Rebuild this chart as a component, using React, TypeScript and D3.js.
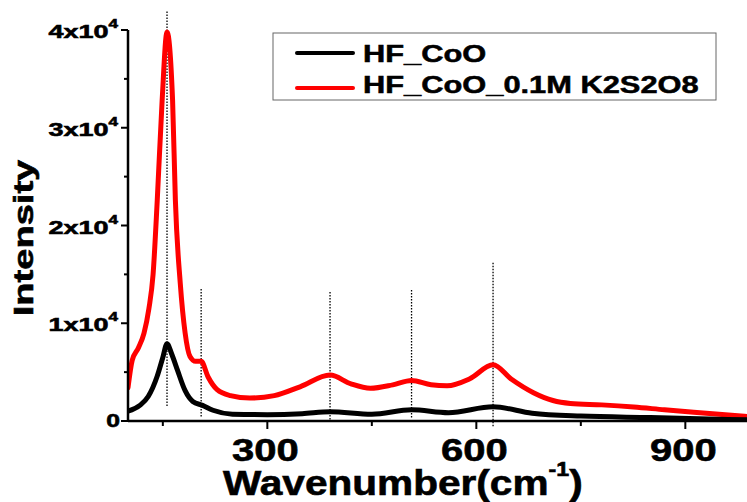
import React from "react";
import * as d3 from "d3";

// HF_CoO (black)
const coWave = [100, 117, 129, 142, 150, 156, 163, 171, 182, 193, 207, 222, 250, 300, 350, 390, 450, 507, 560, 624, 680, 750, 850, 1000];
const coInt = [1000, 1600, 2500, 4600, 6500, 7900, 6800, 5200, 3100, 2000, 1600, 1100, 700, 650, 750, 950, 700, 1150, 850, 1450, 800, 500, 350, 100];

// HF_CoO_0.1M K2S2O8 (red)
const ksWave = [100, 106, 115, 123, 130, 136, 142, 149, 156, 164, 168, 175, 182, 189, 197, 205, 215, 228, 247, 275, 310, 347, 390, 420, 448, 480, 507, 535, 558, 590, 624, 650, 682, 710, 735, 780, 826, 870, 921, 1000];
const ksInt = [3400, 6200, 7500, 9000, 11500, 15000, 22600, 32800, 39800, 32800, 22600, 14100, 9000, 6600, 6100, 6100, 4500, 3200, 2600, 2350, 2600, 3500, 4700, 3800, 3350, 3700, 4150, 3700, 3600, 4300, 5750, 4300, 2900, 2100, 1800, 1650, 1430, 1150, 850, 400];

// dotted peak markers: position, top, bottom
const peakPos = [156, 205, 390, 507, 624];
const peakTop = [41900, 13500, 13200, 13400, 16200];
const peakBottom = [1400, 400, 0, 300, -700];

const xTicks = [300, 600, 900];
const xMinor = [150, 450, 750];
const yTicks = [0, 10000, 20000, 30000, 40000];
const yTickLabels = ["0", "1x10", "2x10", "3x10", "4x10"];
const yMinor = [5000, 15000, 25000, 35000];

const seriesNames = ["HF_CoO", "HF_CoO_0.1M K2S2O8"];
const seriesColors = ["#000000", "#ff0000"];

const W = 747;
const H = 502;
const FONT = "'Liberation Sans', Arial, sans-serif";

export default function App() {
  const x = d3.scaleLinear().domain([100, 1000]).range([128, 755]);
  const y = d3.scaleLinear().domain([0, 40000]).range([421, 30]);

  const line = d3
    .line<[number, number]>()
    .x((d) => x(d[0]))
    .y((d) => y(d[1]))
    .curve(d3.curveMonotoneX);

  const coPath = line(coWave.map((w, i) => [w, coInt[i]]) as [number, number][]);
  const ksPath = line(ksWave.map((w, i) => [w, ksInt[i]]) as [number, number][]);

  return (
    <svg
      width={W}
      height={H}
      style={{ position: "absolute", left: 0, top: 0, background: "#fff" }}
      fontFamily={FONT}
      fontWeight="bold"
    >
      <defs>
        <clipPath id="plot">
          <rect x={128} y={0} width={W - 128} height={421} />
        </clipPath>
      </defs>

      {/* dotted peak guides */}
      {peakPos.map((p, i) => (
        <line
          key={"pk" + i}
          x1={x(p)}
          x2={x(p)}
          y1={y(peakTop[i])}
          y2={y(peakBottom[i])}
          stroke="#000"
          strokeWidth={1.3}
          strokeDasharray="1.5,1.5"
        />
      ))}

      {/* curves */}
      <g clipPath="url(#plot)" fill="none" strokeLinejoin="round" strokeLinecap="round">
        <path d={ksPath || ""} stroke={seriesColors[1]} strokeWidth={5} />
        <path d={coPath || ""} stroke={seriesColors[0]} strokeWidth={5} />
      </g>

      {/* axes */}
      <line x1={128} x2={W} y1={y(0)} y2={y(0)} stroke="#000" strokeWidth={2.5} />
      <line x1={128} x2={128} y1={y(40000)} y2={y(0) + 1} stroke="#000" strokeWidth={2.5} />

      {xTicks.map((t) => (
        <line key={"xt" + t} x1={x(t)} x2={x(t)} y1={y(0)} y2={y(0) + 8} stroke="#000" strokeWidth={2} />
      ))}
      {xMinor.map((t) => (
        <line key={"xm" + t} x1={x(t)} x2={x(t)} y1={y(0)} y2={y(0) + 5} stroke="#000" strokeWidth={2} />
      ))}
      {yTicks.map((t) => (
        <line key={"yt" + t} x1={121} x2={128} y1={y(t)} y2={y(t)} stroke="#000" strokeWidth={2} />
      ))}
      {yMinor.map((t) => (
        <line key={"ym" + t} x1={124} x2={128} y1={y(t)} y2={y(t)} stroke="#000" strokeWidth={2} />
      ))}

      <g stroke="#000" strokeWidth={0.6}>
        {/* x tick labels */}
        {xTicks.map((t) => (
          <text
            key={"xl" + t}
            transform={`translate(${x(t) - 2},461) scale(1.25,1)`}
            textAnchor="middle"
            fontSize={32}
          >
            {t}
          </text>
        ))}

        {/* y tick labels */}
        {yTicks.map((t, i) =>
          t === 0 ? (
            <text key={"yl" + t} transform={`translate(120,${y(t) + 6}) scale(1.3,1)`} textAnchor="end" fontSize={19}>
              {yTickLabels[i]}
            </text>
          ) : (
            <text key={"yl" + t} transform={`translate(118,${y(t) + 8}) scale(1.42,1)`} textAnchor="end" fontSize={19}>
              {yTickLabels[i]}
              <tspan fontSize={12} dy={-10}>
                4
              </tspan>
            </text>
          )
        )}

        {/* axis titles */}
        <text transform="translate(223,495) scale(1.16,1)" fontSize={35}>
          Wavenumber(cm
          <tspan fontSize={20} dy={-19}>
            -1
          </tspan>
          <tspan fontSize={35} dy={19}>
            )
          </tspan>
        </text>
        <text transform="translate(33,238) rotate(-90) scale(1.36,1)" textAnchor="middle" fontSize={28}>
          Intensity
        </text>
      </g>

      {/* legend */}
      <rect x={273} y={33} width={443} height={67} fill="#fff" stroke="#666" strokeWidth={1} />
      {seriesNames.map((n, i) => (
        <g key={"lg" + i}>
          <line
            x1={297}
            x2={353}
            y1={53 + i * 35}
            y2={53 + i * 35}
            stroke={seriesColors[i]}
            strokeWidth={4}
            strokeLinecap="round"
          />
          <text
            transform={`translate(363,${62 + i * 31}) scale(1.34,1)`}
            fontSize={23}
            stroke="#000"
            strokeWidth={0.5}
          >
            {n}
          </text>
        </g>
      ))}
    </svg>
  );
}
